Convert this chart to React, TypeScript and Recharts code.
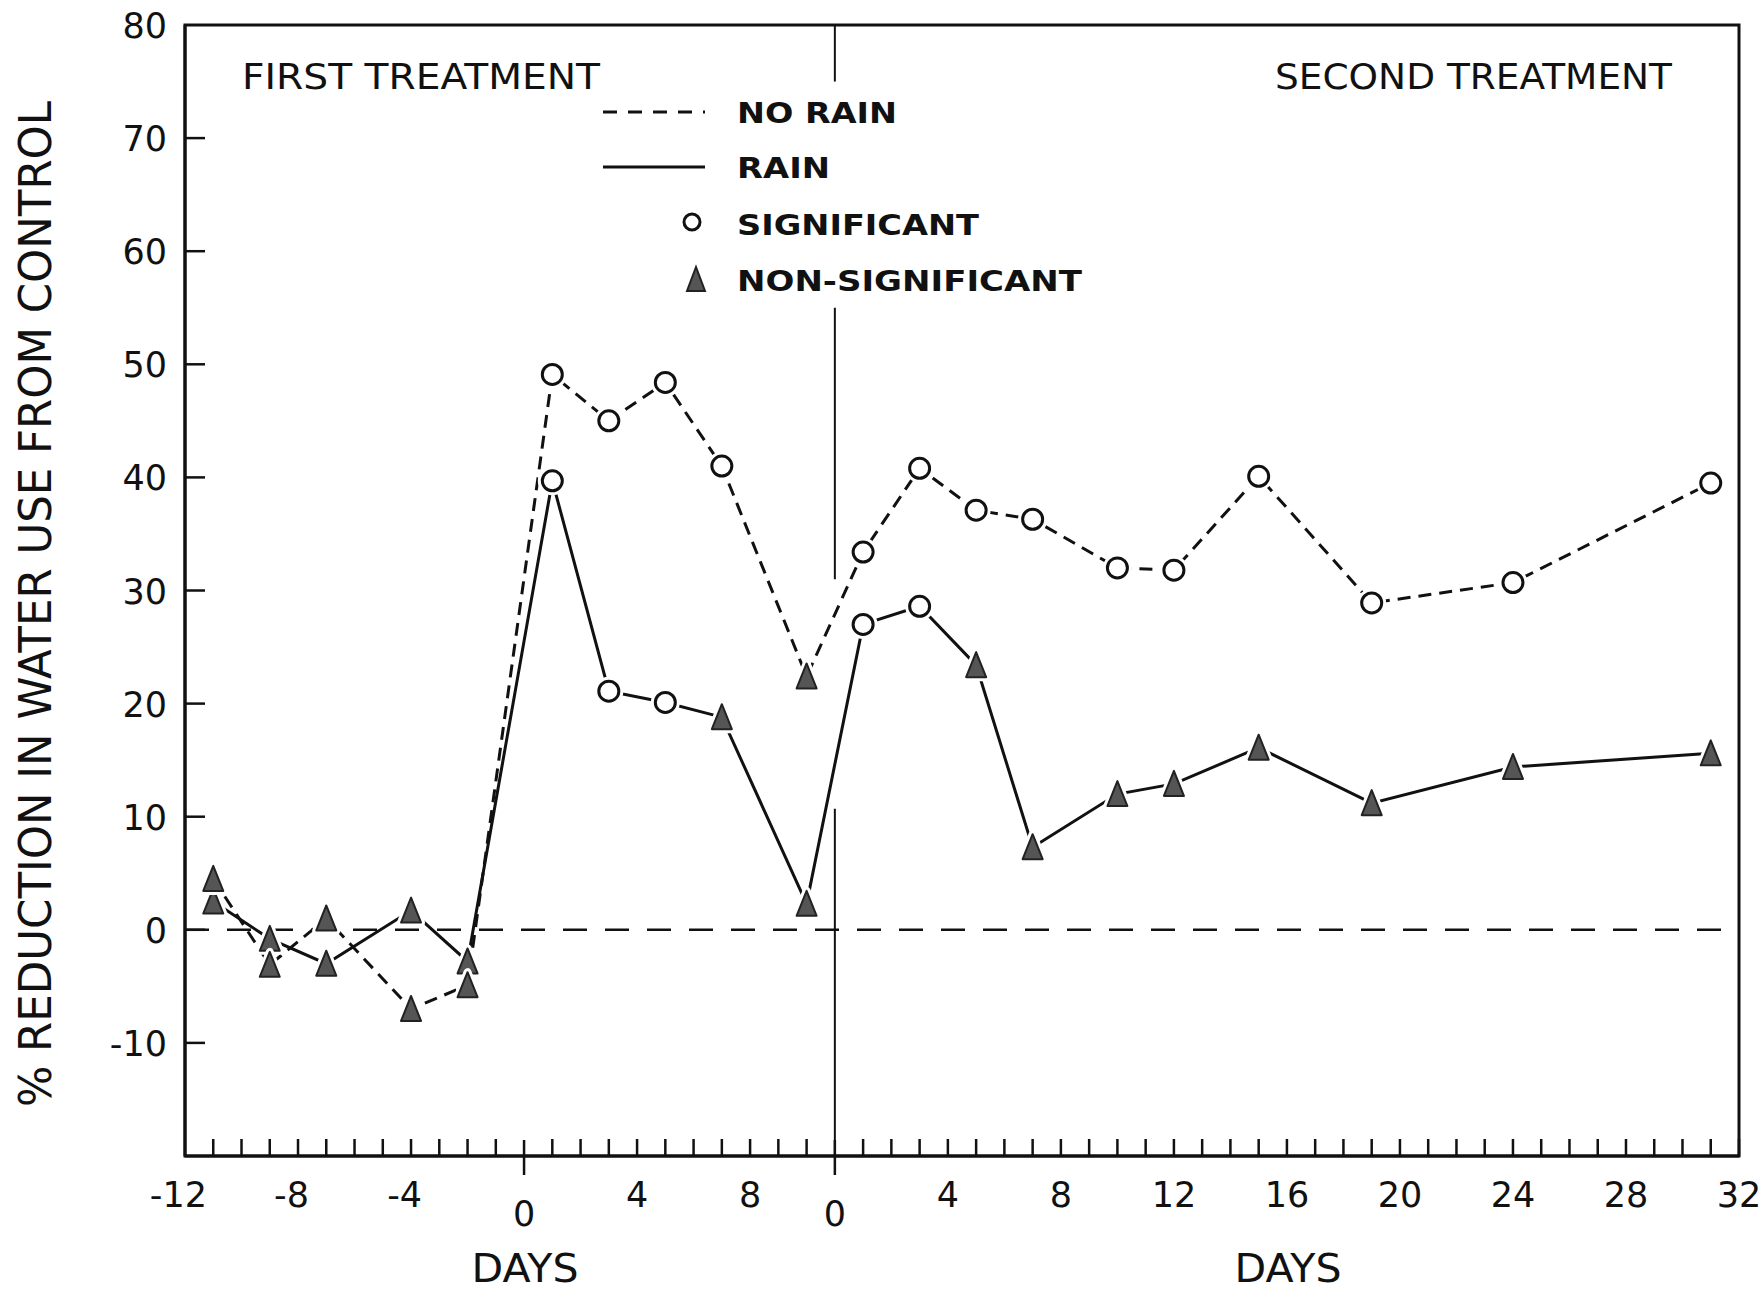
import React from 'react';
import { LineChart, Line, XAxis, YAxis, ReferenceLine, ReferenceArea } from 'recharts';

// days of measurement, counted from each treatment
const firstDays = [-11, -9, -7, -4, -2, 1, 3, 5, 7, 10];
const secondDays = [1, 3, 5, 7, 10, 12, 15, 19, 24, 31];
// day 0 of the second treatment falls on day 11 of the first
const secondStart = 11;

// % reduction in water use from control
const noRain = [4.5, -3.1, 1.0, -7.0, -4.9, 49.1, 45.0, 48.4, 41.0, 22.4, 33.4, 40.8, 37.1, 36.3, 32.0, 31.8, 40.1, 28.9, 30.7, 39.5];
const rain = [2.5, -0.8, -3.0, 1.7, -2.8, 39.7, 21.1, 20.1, 18.8, 2.3, 27.0, 28.6, 23.4, 7.3, 12.0, 12.9, 16.1, 11.2, 14.4, 15.6];
// 1 = significant (open circle), 0 = non-significant (filled triangle)
const noRainSig = [0, 0, 0, 0, 0, 1, 1, 1, 1, 0, 1, 1, 1, 1, 1, 1, 1, 1, 1, 1];
const rainSig = [0, 0, 0, 0, 0, 1, 1, 1, 0, 0, 1, 1, 0, 0, 0, 0, 0, 0, 0, 0];

const firstTicks = [-12, -8, -4, 0, 4, 8];
const secondTicks = [0, 4, 8, 12, 16, 20, 24, 28, 32];
const yTicks = [-20, -10, 0, 10, 20, 30, 40, 50, 60, 70, 80];

const xMin = -12;
const xMax = secondStart + 32;

const days = [...firstDays, ...secondDays.map((d) => d + secondStart)];
const data = days.map((x, i) => ({ x, noRain: noRain[i], rain: rain[i] }));
const dayTicks = Array.from({ length: xMax - xMin + 1 }, (_, i) => xMin + i);

const FONT = '"DejaVu Sans", sans-serif';
const INK = '#111';

function xLabel(v: number): string | null {
  if (v < secondStart && firstTicks.includes(v)) return String(v);
  if (v >= secondStart && secondTicks.includes(v - secondStart)) return String(v - secondStart);
  return null;
}

function XTick({ x, y, payload }: any) {
  const v = payload.value as number;
  const isZero = v === 0 || v === secondStart;
  const label = xLabel(v);
  const neg = label !== null && label.startsWith('-');
  return (
    <g>
      {v !== xMin && (
        <line x1={x} x2={x} y1={isZero ? y - 16 : y - 17} y2={isZero ? y + 19 : y} stroke={INK} strokeWidth={2.5} />
      )}
      {label !== null && (
        <text
          x={neg ? x + (label.length - 1) * 11 : x}
          y={isZero ? y + 70 : y + 51}
          textAnchor={neg ? 'end' : 'middle'}
          fontFamily={FONT}
          fontSize={35}
          fill={INK}
        >
          {label}
        </text>
      )}
    </g>
  );
}

function YTick({ x, y, payload }: any) {
  const v = payload.value as number;
  if (v === -20) return <g />;
  return (
    <g>
      {v !== 80 && <line x1={x} x2={x + 20} y1={y} y2={y} stroke={INK} strokeWidth={2.5} />}
      <text x={x - 18} y={y + 13} textAnchor="end" fontFamily={FONT} fontSize={35} fill={INK}>
        {v}
      </text>
    </g>
  );
}

function marker(flags: number[]) {
  return (props: any) => {
    const { cx, cy, index } = props;
    if (cx == null || cy == null) return <g key={`m-${index}`} />;
    if (flags[index]) {
      return (
        <g key={`m-${index}`}>
          <circle cx={cx} cy={cy} r={10} fill="#fff" stroke="#fff" strokeWidth={9} />
          <circle cx={cx} cy={cy} r={10} fill="#fff" stroke={INK} strokeWidth={3} />
        </g>
      );
    }
    const pts = `${cx},${cy - 13} ${cx - 10},${cy + 12} ${cx + 10},${cy + 12}`;
    return (
      <g key={`m-${index}`}>
        <polygon points={pts} fill="#fff" stroke="#fff" strokeWidth={8} strokeLinejoin="round" />
        <polygon points={pts} fill="#555" stroke="#222" strokeWidth={2} strokeLinejoin="round" />
      </g>
    );
  };
}

function Overlay() {
  const t = { fontFamily: FONT, fill: INK } as const;
  const lg = { ...t, fontSize: 29, fontWeight: 'bold' as const, lengthAdjust: 'spacingAndGlyphs' };
  return (
    <svg
      width={1762}
      height={1294}
      style={{ position: 'absolute', left: 0, top: 0, pointerEvents: 'none' }}
    >
      <text {...t} x={242} y={89} fontSize={36} textLength={358} lengthAdjust="spacingAndGlyphs">
        FIRST TREATMENT
      </text>
      <text {...t} x={1275} y={89} fontSize={36} textLength={397} lengthAdjust="spacingAndGlyphs">
        SECOND TREATMENT
      </text>

      {/* legend */}
      <line x1={603} x2={705} y1={112} y2={112} stroke={INK} strokeWidth={3} strokeDasharray="14 11" />
      <text {...lg} x={737} y={123} textLength={160}>
        NO RAIN
      </text>
      <line x1={603} x2={705} y1={167} y2={167} stroke={INK} strokeWidth={3} />
      <text {...lg} x={737} y={178} textLength={93}>
        RAIN
      </text>
      <circle cx={692} cy={222} r={8} fill="#fff" stroke={INK} strokeWidth={3} />
      <text {...lg} x={737} y={235} textLength={242}>
        SIGNIFICANT
      </text>
      <polygon points="696,267 687,291 705,291" fill="#555" stroke="#222" strokeWidth={2} />
      <text {...lg} x={737} y={291} textLength={345}>
        NON-SIGNIFICANT
      </text>

      {/* axis titles */}
      <text
        {...t}
        x={0}
        y={0}
        fontSize={44}
        textAnchor="middle"
        transform="translate(51 604) rotate(-90)"
        textLength={1006}
        lengthAdjust="spacingAndGlyphs"
      >
        % REDUCTION IN WATER USE  FROM CONTROL
      </text>
      <text {...t} x={525} y={1282} fontSize={39} textAnchor="middle" textLength={107} lengthAdjust="spacingAndGlyphs">
        DAYS
      </text>
      <text {...t} x={1288} y={1282} fontSize={39} textAnchor="middle" textLength={107} lengthAdjust="spacingAndGlyphs">
        DAYS
      </text>
    </svg>
  );
}

export default function App() {
  return (
    <div style={{ position: 'absolute', left: 0, top: 0, width: 1762, height: 1294, background: '#fff' }}>
      <LineChart width={1762} height={1294} data={data} margin={{ top: 25, right: 23, left: 65, bottom: 78 }}>
        <XAxis
          dataKey="x"
          type="number"
          domain={[xMin, xMax]}
          ticks={dayTicks}
          interval={0}
          height={60}
          tickSize={0}
          tickMargin={0}
          tickLine={false}
          axisLine={{ stroke: INK, strokeWidth: 3 }}
          tick={<XTick />}
        />
        <YAxis
          type="number"
          domain={[-20, 80]}
          ticks={yTicks}
          interval={0}
          width={120}
          tickSize={0}
          tickMargin={0}
          tickLine={false}
          axisLine={{ stroke: INK, strokeWidth: 3 }}
          tick={<YTick />}
        />
        <ReferenceArea x1={xMin} x2={xMax} y1={-20} y2={80} fill="none" stroke={INK} strokeWidth={3} />
        <ReferenceLine y={0} stroke={INK} strokeWidth={2.5} strokeDasharray="24 18" />
        <ReferenceLine segment={[{ x: secondStart, y: 80 }, { x: secondStart, y: 75 }]} stroke={INK} strokeWidth={2} />
        <ReferenceLine segment={[{ x: secondStart, y: 55 }, { x: secondStart, y: 31 }]} stroke={INK} strokeWidth={2} />
        <ReferenceLine segment={[{ x: secondStart, y: 10.7 }, { x: secondStart, y: -20 }]} stroke={INK} strokeWidth={2} />
        <Line
          type="linear"
          dataKey="rain"
          stroke={INK}
          strokeWidth={3}
          dot={marker(rainSig)}
          activeDot={false}
          isAnimationActive={false}
        />
        <Line
          type="linear"
          dataKey="noRain"
          stroke={INK}
          strokeWidth={3}
          strokeDasharray="13 8"
          dot={marker(noRainSig)}
          activeDot={false}
          isAnimationActive={false}
        />
      </LineChart>
      <Overlay />
    </div>
  );
}
